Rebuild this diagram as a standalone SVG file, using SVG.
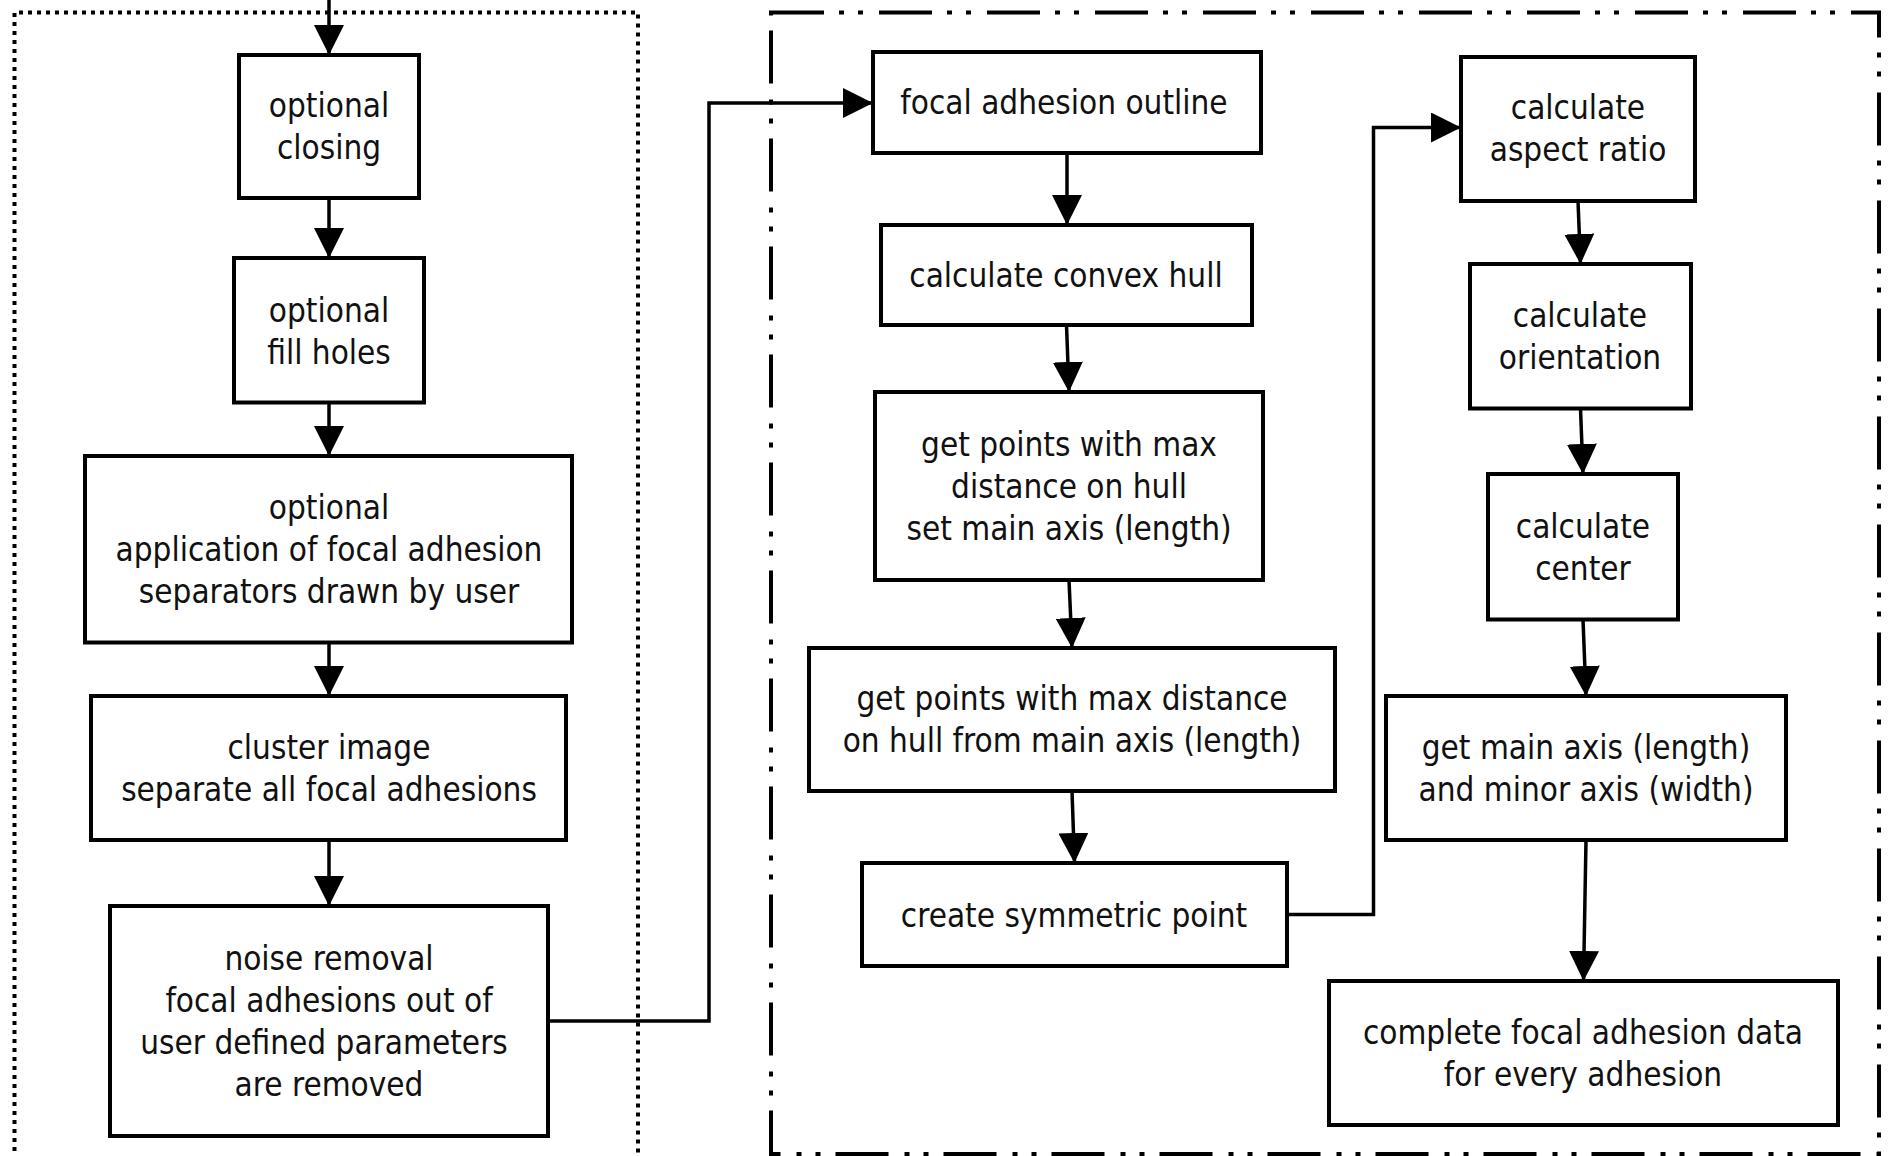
<svg xmlns="http://www.w3.org/2000/svg" width="1901" height="1156" viewBox="0 0 1901 1156">
<style>
.box{fill:#fff;stroke:#000;stroke-width:4}
.lbl{font-family:"DejaVu Sans Condensed","DejaVu Sans",sans-serif;font-size:33px;fill:#111;text-anchor:middle}
.con{fill:none;stroke:#000;stroke-width:3.5}
.frame1{fill:none;stroke:#000;stroke-width:4;stroke-dasharray:4 5}
.frame2{fill:none;stroke:#000;stroke-width:4;stroke-dasharray:53 15 5 14 5 16}
</style>
<defs>
<marker id="arr" markerUnits="userSpaceOnUse" viewBox="0 0 30 30" markerWidth="30" markerHeight="30" refX="30" refY="15" orient="auto">
<path d="M0,0 L30,15 L0,30 Z" fill="#000"/>
</marker>
</defs>
<rect width="1901" height="1156" fill="#fff"/>
<g id="frames">
<path class="frame1" d="M14.5,1160 V12.5 H638 V1160"/>
<path class="frame2" d="M771,12.5 H1879 V1154 H771 Z"/>
</g>
<g id="connectors">
<line class="con" x1="329" y1="0" x2="329" y2="55" marker-end="url(#arr)"/>
<line class="con" x1="329" y1="198" x2="329" y2="258" marker-end="url(#arr)"/>
<line class="con" x1="329" y1="402.5" x2="329" y2="456" marker-end="url(#arr)"/>
<line class="con" x1="329" y1="642.5" x2="329" y2="696" marker-end="url(#arr)"/>
<line class="con" x1="329" y1="840" x2="329" y2="906" marker-end="url(#arr)"/>
<polyline class="con" points="548,1021 709,1021 709,103 873,103" marker-end="url(#arr)"/>
<line class="con" x1="1067" y1="153" x2="1067" y2="225" marker-end="url(#arr)"/>
<line class="con" x1="1066.5" y1="325" x2="1069" y2="392" marker-end="url(#arr)"/>
<line class="con" x1="1069" y1="580" x2="1072" y2="648" marker-end="url(#arr)"/>
<line class="con" x1="1072" y1="791" x2="1074.5" y2="863" marker-end="url(#arr)"/>
<polyline class="con" points="1287,914.5 1373.5,914.5 1373.5,127.5 1461,127.5" marker-end="url(#arr)"/>
<line class="con" x1="1578" y1="201" x2="1580.5" y2="264" marker-end="url(#arr)"/>
<line class="con" x1="1580.5" y1="408.5" x2="1583" y2="474" marker-end="url(#arr)"/>
<line class="con" x1="1583" y1="619.5" x2="1586" y2="696" marker-end="url(#arr)"/>
<line class="con" x1="1586" y1="840" x2="1583.5" y2="981" marker-end="url(#arr)"/>
</g>
<g id="n1"><rect class="box" x="239" y="55" width="180" height="143"/>
<text class="lbl" x="329" y="117">optional</text><text class="lbl" x="329" y="159">closing</text></g>
<g id="n2"><rect class="box" x="234" y="258" width="190" height="144.5"/>
<text class="lbl" x="329" y="322">optional</text><text class="lbl" x="329" y="364">fill holes</text></g>
<g id="n3"><rect class="box" x="85" y="456" width="487" height="186.5"/>
<text class="lbl" x="329" y="519">optional</text><text class="lbl" x="329" y="561">application of focal adhesion</text><text class="lbl" x="329" y="603">separators drawn by user</text></g>
<g id="n4"><rect class="box" x="91" y="696" width="475" height="144"/>
<text class="lbl" x="329" y="759">cluster image</text><text class="lbl" x="329" y="801">separate all focal adhesions</text></g>
<g id="n5"><rect class="box" x="110" y="906" width="438" height="230"/>
<text class="lbl" x="329" y="970">noise removal</text><text class="lbl" x="329" y="1012">focal adhesions out of</text><text class="lbl" x="324" y="1054">user defined parameters</text><text class="lbl" x="329" y="1096">are removed</text></g>
<g id="n6"><rect class="box" x="873" y="52" width="388" height="101"/>
<text class="lbl" x="1064" y="114">focal adhesion outline</text></g>
<g id="n7"><rect class="box" x="881" y="225" width="371" height="100"/>
<text class="lbl" x="1066" y="287">calculate convex hull</text></g>
<g id="n8"><rect class="box" x="875" y="392" width="388" height="188"/>
<text class="lbl" x="1069" y="456">get points with max</text><text class="lbl" x="1069" y="498">distance on hull</text><text class="lbl" x="1069" y="540">set main axis (length)</text></g>
<g id="n9"><rect class="box" x="809" y="648" width="526" height="143"/>
<text class="lbl" x="1072" y="710">get points with max distance</text><text class="lbl" x="1072" y="752">on hull from main axis (length)</text></g>
<g id="n10"><rect class="box" x="862" y="863" width="425" height="103"/>
<text class="lbl" x="1074" y="927">create symmetric point</text></g>
<g id="n11"><rect class="box" x="1461" y="57" width="234" height="144"/>
<text class="lbl" x="1578" y="119">calculate</text><text class="lbl" x="1578" y="161">aspect ratio</text></g>
<g id="n12"><rect class="box" x="1470" y="264" width="221" height="144.5"/>
<text class="lbl" x="1580" y="327">calculate</text><text class="lbl" x="1580" y="369">orientation</text></g>
<g id="n13"><rect class="box" x="1488" y="474" width="190" height="145.5"/>
<text class="lbl" x="1583" y="538">calculate</text><text class="lbl" x="1583" y="580">center</text></g>
<g id="n14"><rect class="box" x="1386" y="696" width="400" height="144"/>
<text class="lbl" x="1586" y="759">get main axis (length)</text><text class="lbl" x="1586" y="801">and minor axis (width)</text></g>
<g id="n15"><rect class="box" x="1329" y="981" width="509" height="144"/>
<text class="lbl" x="1583" y="1044">complete focal adhesion data</text><text class="lbl" x="1583" y="1086">for every adhesion</text></g>
</svg>
